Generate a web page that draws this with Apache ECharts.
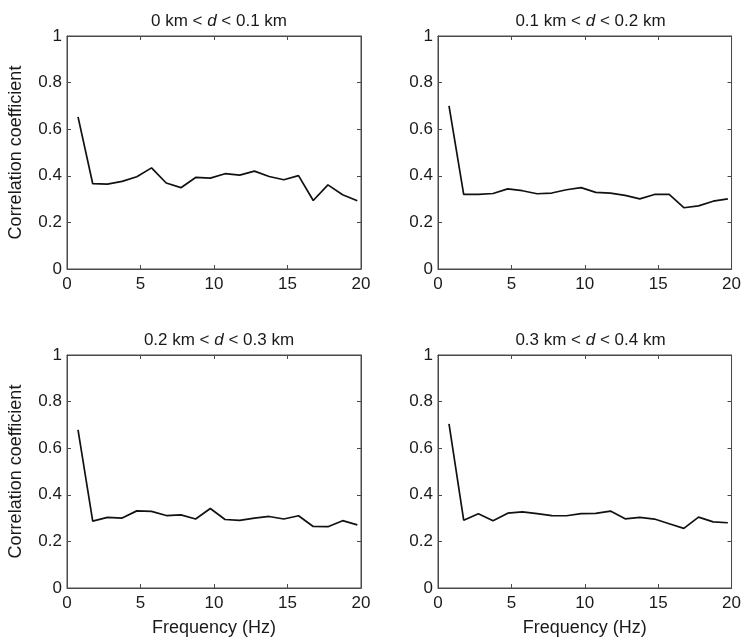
<!DOCTYPE html>
<html>
<head>
<meta charset="utf-8">
<script src="https://cdn.jsdelivr.net/npm/echarts@6/dist/echarts.min.js"></script>
<style>html,body{margin:0;padding:0;background:#fff;}#c{width:744px;height:640px;}</style>
</head>
<body>
<div id="c"></div>
<script>
var freqs = [0.75,1.75,2.75,3.75,4.75,5.75,6.75,7.75,8.75,9.75,10.75,11.75,12.75,13.75,14.75,15.75,16.75,17.75,18.75,19.75];
var corrA = [0.653,0.366,0.364,0.376,0.396,0.434,0.369,0.349,0.393,0.390,0.409,0.403,0.420,0.397,0.383,0.401,0.294,0.361,0.319,0.293];
var corrB = [0.700,0.320,0.320,0.324,0.344,0.336,0.323,0.326,0.340,0.349,0.329,0.326,0.316,0.301,0.320,0.320,0.263,0.271,0.291,0.301];
var corrC = [0.679,0.287,0.303,0.300,0.331,0.329,0.311,0.314,0.296,0.341,0.294,0.290,0.300,0.307,0.296,0.310,0.264,0.263,0.289,0.271];
var corrD = [0.704,0.291,0.319,0.289,0.321,0.327,0.319,0.311,0.310,0.319,0.320,0.330,0.297,0.303,0.296,0.276,0.256,0.304,0.284,0.280];
var titles = [['0 km < ','d',' < 0.1 km'],['0.1 km < ','d',' < 0.2 km'],['0.2 km < ','d',' < 0.3 km'],['0.3 km < ','d',' < 0.4 km']];
var xTicks = [0,5,10,15,20];
var yTicks = [0,0.2,0.4,0.6,0.8,1];

var FONT = 'Liberation Sans, Arial, sans-serif';
var series4 = [corrA, corrB, corrC, corrD];
var grids = [
  {left:67, top:36, width:294, height:233},
  {left:438, top:36, width:295, height:233},
  {left:67, top:355, width:294, height:233},
  {left:438, top:355, width:295, height:233}
];
var frame = '#4a4a4a';
var option = {
  animation:false,
  backgroundColor:'#fff',
  title:[], grid:[], xAxis:[], yAxis:[], series:[]
};
grids.forEach(function(g, i){
  option.grid.push({left:g.left, top:g.top, width:g.width, height:g.height, show:true, borderColor:frame, borderWidth:1, backgroundColor:'transparent'});
  option.title.push({
    text:'{n|'+titles[i][0]+'}{i|'+titles[i][1]+'}{n|'+titles[i][2]+'}',
    left:g.left + g.width/2, top:g.top-28, textAlign:'center',
    textStyle:{fontWeight:'normal', rich:{
      n:{fontFamily:FONT,fontSize:17,fontWeight:'normal',color:'#1a1a1a'},
      i:{fontFamily:FONT,fontSize:17,fontStyle:'italic',fontWeight:'normal',color:'#1a1a1a'}}}
  });
  var bottomRow = i >= 2, leftCol = (i % 2 === 0);
  option.xAxis.push({
    type:'value', gridIndex:i, min:0, max:20, interval:5, position:'bottom',
    axisLine:{show:true, onZero:false, lineStyle:{color:frame,width:1}},
    axisTick:{show:true, inside:true, length:4, lineStyle:{color:frame}},
    splitLine:{show:false},
    axisLabel:{show:true, margin:7, fontFamily:FONT, fontSize:17, color:'#1a1a1a', formatter:function(v){return xTicks.indexOf(v)>=0?String(v):'';}},
    name: bottomRow ? 'Frequency (Hz)' : '', nameLocation:'middle', nameGap:31,
    nameTextStyle:{fontFamily:FONT, fontSize:18, color:'#1a1a1a'}
  });
  option.xAxis.push({
    type:'value', gridIndex:i, min:0, max:20, interval:5, position:'top',
    axisLine:{show:true, onZero:false, lineStyle:{color:frame,width:1}},
    axisTick:{show:true, inside:true, length:4, lineStyle:{color:frame}},
    splitLine:{show:false}, axisLabel:{show:false}
  });
  option.yAxis.push({
    type:'value', gridIndex:i, min:0, max:1, interval:0.2, position:'left',
    axisLine:{show:true, onZero:false, lineStyle:{color:frame,width:1}},
    axisTick:{show:true, inside:true, length:4, lineStyle:{color:frame}},
    splitLine:{show:false},
    axisLabel:{show:true, margin:5, fontFamily:FONT, fontSize:17, color:'#1a1a1a', formatter:function(v){var r=Math.round(v*10)/10; return r===0?'0':(r===1?'1':String(r));}},
    name: leftCol ? 'Correlation coefficient' : '', nameLocation:'middle', nameGap:42,
    nameTextStyle:{fontFamily:FONT, fontSize:18, color:'#1a1a1a'}
  });
  option.yAxis.push({
    type:'value', gridIndex:i, min:0, max:1, interval:0.2, position:'right',
    axisLine:{show:true, onZero:false, lineStyle:{color:frame,width:1}},
    axisTick:{show:true, inside:true, length:4, lineStyle:{color:frame}},
    splitLine:{show:false}, axisLabel:{show:false}
  });
  option.series.push({
    type:'line', xAxisIndex:i*2, yAxisIndex:i*2, showSymbol:false, symbol:'none',
    lineStyle:{color:'#111', width:1.7}, silent:true,
    data: freqs.map(function(f, k){ return [f, series4[i][k]]; })
  });
});
var chart = echarts.init(document.getElementById('c'), null, {renderer:'canvas'});
chart.setOption(option);
</script>
</body>
</html>
